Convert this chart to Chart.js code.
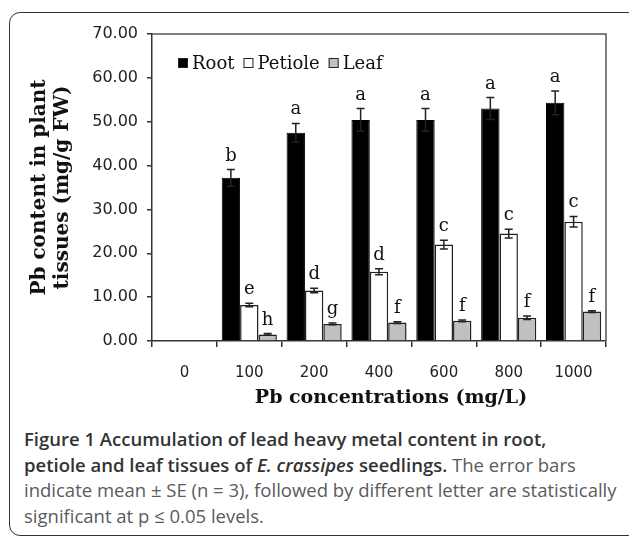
<!DOCTYPE html>
<html>
<head>
<meta charset="utf-8">
<script src="https://cdn.jsdelivr.net/npm/chart.js@4.4.1/dist/chart.umd.min.js"></script>
<style>
  html, body { margin: 0; padding: 0; background: #fff; }
  body { width: 629px; height: 538px; position: relative; overflow: hidden; }
  #frame { position: absolute; left: 9px; top: 12px; width: 630px; height: 524px;
           border: 1.5px solid #333; border-radius: 11px; box-sizing: border-box; }
  #wrap { position: absolute; left: 0; top: 0; width: 629px; height: 410px; }
  #caption { position: absolute; left: 24px; top: 426px; width: 605px;
             font-family: "Open Sans", sans-serif; font-size: 18.5px; line-height: 25.5px;
             color: #5a5b5d; white-space: nowrap; }
  #caption b { color: #333; font-weight: 600; }
</style>
</head>
<body>
<div id="frame"></div>
<div id="wrap"><canvas id="c" width="629" height="410"></canvas></div>
<div id="caption"><b>Figure 1 Accumulation of lead heavy metal content in root,</b><br><b>petiole and leaf tissues of <i>E. crassipes</i> seedlings.</b> The error bars<br>indicate mean ± SE (n = 3), followed by different letter are statistically<br>significant at p ≤ 0.05 levels.</div>
<script>
const categories = ['0', '100', '200', '400', '600', '800', '1000'];
const seriesNames = ['Root', 'Petiole', 'Leaf'];
const rootValues = [0, 37.2, 47.5, 50.4, 50.4, 53.0, 54.3];
const rootErrors = [0, 1.9, 2.1, 2.6, 2.6, 2.5, 2.7];
const rootLetters = ['', 'b', 'a', 'a', 'a', 'a', 'a'];
const petioleValues = [0, 8.2, 11.5, 15.8, 22.0, 24.5, 27.2];
const petioleErrors = [0, 0.4, 0.5, 0.7, 1.0, 1.0, 1.2];
const petioleLetters = ['', 'e', 'd', 'd', 'c', 'c', 'c'];
const leafValues = [0, 1.5, 3.9, 4.2, 4.6, 5.3, 6.7];
const leafErrors = [0, 0.2, 0.2, 0.2, 0.2, 0.4, 0.2];
const leafLetters = ['', 'h', 'g', 'f', 'f', 'f', 'f'];
const yMin = 0, yMax = 70, yStep = 10;
const xTitle = 'Pb concentrations (mg/L)';
const yTitle = ['Pb content in plant', 'tissues (mg/g FW)'];

const errorSets = [rootErrors, petioleErrors, leafErrors];
const letterSets = [rootLetters, petioleLetters, leafLetters];

const serif = '"DejaVu Serif", serif';

const extras = {
  id: 'extras',
  afterDatasetsDraw(chart) {
    const ctx = chart.ctx;
    const ys = chart.scales.y;
    const xs = chart.scales.x;
    const area = chart.chartArea;
    ctx.save();
    // chart area box (top/right)
    ctx.strokeStyle = '#555';
    ctx.lineWidth = 1.5;
    ctx.beginPath();
    ctx.moveTo(area.left, area.top);
    ctx.lineTo(area.right, area.top);
    ctx.lineTo(area.right, area.bottom);
    ctx.stroke();
    // error bars and letters
    chart.data.datasets.forEach((ds, di) => {
      const meta = chart.getDatasetMeta(di);
      meta.data.forEach((bar, i) => {
        const v = ds.data[i];
        const e = errorSets[di][i];
        if (!v) return;
        const x = bar.x;
        const yTop = ys.getPixelForValue(v + e);
        const yBot = ys.getPixelForValue(v - e);
        ctx.strokeStyle = '#222';
        ctx.lineWidth = 1.5;
        ctx.beginPath();
        ctx.moveTo(x, yTop); ctx.lineTo(x, yBot);
        ctx.moveTo(x - 4, yTop); ctx.lineTo(x + 4, yTop);
        ctx.moveTo(x - 4, yBot); ctx.lineTo(x + 4, yBot);
        ctx.stroke();
        const L = letterSets[di][i];
        if (L) {
          ctx.fillStyle = '#111';
          ctx.font = '18px ' + serif;
          ctx.textAlign = 'center';
          ctx.textBaseline = 'alphabetic';
          ctx.fillText(L, x, yTop - 9);
        }
      });
    });
    // legend
    let lx = area.left + 26;
    const ly = area.top + 29;
    ctx.font = '18px ' + serif;
    ctx.textBaseline = 'middle';
    ctx.textAlign = 'left';
    chart.data.datasets.forEach((ds) => {
      ctx.fillStyle = ds.backgroundColor;
      ctx.fillRect(lx, ly - 5, 10, 10);
      ctx.strokeStyle = '#222';
      ctx.lineWidth = 1;
      ctx.strokeRect(lx + 0.5, ly - 4.5, 9, 9);
      lx += 14;
      ctx.fillStyle = '#111';
      ctx.fillText(ds.label, lx, ly + 1);
      lx += ctx.measureText(ds.label).width + 9;
    });
    // x-axis title (slightly right of centre, as in the source figure)
    ctx.font = 'bold 19px ' + serif;
    ctx.fillStyle = '#111';
    ctx.textAlign = 'center';
    ctx.textBaseline = 'middle';
    ctx.fillText(xTitle, (xs.left + xs.right) / 2 + 12, 398);
    ctx.restore();
  }
};

new Chart(document.getElementById('c'), {
  type: 'bar',
  data: {
    labels: categories,
    datasets: [
      { label: seriesNames[0], data: rootValues, backgroundColor: '#000000', borderColor: '#000000', borderWidth: 1 },
      { label: seriesNames[1], data: petioleValues, backgroundColor: '#ffffff', borderColor: '#222222', borderWidth: 1.5 },
      { label: seriesNames[2], data: leafValues, backgroundColor: '#c0c0c0', borderColor: '#222222', borderWidth: 1.5 }
    ]
  },
  options: {
    responsive: false,
    animation: false,
    devicePixelRatio: 1,
    layout: { padding: { top: 34, right: 23, left: 0, bottom: 0 } },
    datasets: { bar: { categoryPercentage: 0.85, barPercentage: 1.0 } },
    plugins: { legend: { display: false }, tooltip: { enabled: false } },
    scales: {
      x: {
        afterFit: (s) => { s.height = 69; },
        grid: { display: true, offset: true, drawOnChartArea: false, drawTicks: true, tickLength: 6, color: '#333', lineWidth: 1.5 },
        border: { display: true, color: '#333', width: 1.5 },
        ticks: { color: '#222', padding: 17, font: { family: '"DejaVu Sans", sans-serif', size: 15 } },
        title: { display: false, text: xTitle }
      },
      y: {
        min: yMin, max: yMax,
        afterFit: (s) => { s.width = 152; },
        grid: { display: true, drawOnChartArea: false, drawTicks: true, tickLength: 5, color: '#333', lineWidth: 1.5 },
        border: { display: true, color: '#333', width: 1.5 },
        ticks: { stepSize: yStep, color: '#222', padding: 9, callback: (v) => Number(v).toFixed(2),
                 font: { family: '"DejaVu Sans", sans-serif', size: 16 } },
        title: { display: true, text: yTitle, color: '#111', padding: { top: 28.5, bottom: 0 },
                 font: { family: serif, size: 20, weight: 'bold', lineHeight: '23px' } }
      }
    }
  },
  plugins: [extras]
});
</script>
</body>
</html>
